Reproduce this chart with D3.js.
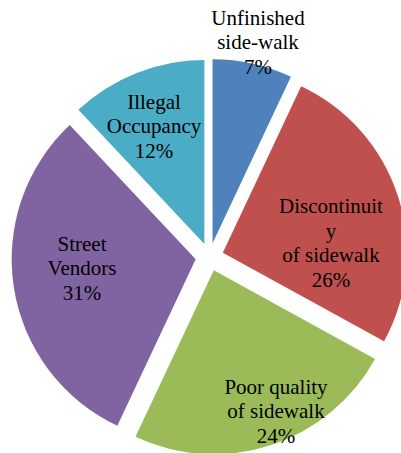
<!DOCTYPE html>
<html>
<head>
<meta charset="utf-8">
<script src="https://cdn.jsdelivr.net/npm/d3@7.9.0/dist/d3.min.js"></script>
<style>
  html, body { margin: 0; padding: 0; background: #fff; }
  svg { display: block; }
</style>
</head>
<body>
<div id="chart"></div>
<script>
// data
const categories = ['Unfinished side-walk', 'Discontinuity of sidewalk', 'Poor quality of sidewalk', 'Street Vendors', 'Illegal Occupancy'];
const values = [7, 26, 24, 31, 12];
const labelLines = [
  ['Unfinished', 'side-walk'],
  ['Discontinuit', 'y', 'of sidewalk'],
  ['Poor quality', 'of sidewalk'],
  ['Street', 'Vendors'],
  ['Illegal', 'Occupancy']
];
const sliceColors = ['#4F81BD', '#C0504D', '#9BBB59', '#8064A2', '#4BACC6'];

// layout
const width = 401;
const height = 453;
const center = { x: 209.5, y: 257 };
const radius = 184;
const explode = 14;
const lineHeight = 24.5;
const labelFont = "'Liberation Serif', 'Times New Roman', serif";
// where each label sits: fraction of radius and angle shift (deg) from the slice bisector
const labelPlace = [
  { k: 1.196, shift: 0 },
  { k: 0.663, shift: 11.4 },
  { k: 0.913, shift: -5.4 },
  { k: 0.696, shift: 4 },
  { k: 0.772, shift: -1.4 }
];

const rows = categories.map((name, i) => ({
  name,
  value: values[i],
  lines: labelLines[i].concat([values[i] + '%']),
  color: sliceColors[i],
  place: labelPlace[i]
}));

const svg = d3.select('#chart')
  .append('svg')
  .attr('width', width)
  .attr('height', height);

const pie = d3.pie()
  .sort(null)
  .value(d => d.value);

const arc = d3.arc()
  .innerRadius(0)
  .outerRadius(radius);

const arcs = pie(rows);

function midAngle(d) {
  return (d.startAngle + d.endAngle) / 2;
}

svg.append('g')
  .attr('transform', `translate(${center.x},${center.y})`)
  .selectAll('path')
  .data(arcs)
  .join('path')
  .attr('d', arc)
  .attr('fill', d => d.data.color)
  .attr('transform', d => {
    const a = midAngle(d);
    return `translate(${explode * Math.sin(a)},${-explode * Math.cos(a)})`;
  });

// one text element per label line, placed in page coordinates
const labelRows = arcs.flatMap(d => {
  const a = midAngle(d) + d.data.place.shift * Math.PI / 180;
  const r = radius * d.data.place.k;
  const lx = center.x + r * Math.sin(a);
  const ly = center.y - r * Math.cos(a);
  const n = d.data.lines.length;
  return d.data.lines.map((t, i) => ({
    t,
    x: Math.round(lx),
    y: Math.round(ly + (i - (n - 1) / 2) * lineHeight + 7)
  }));
});

svg.append('g')
  .selectAll('text')
  .data(labelRows)
  .join('text')
  .attr('x', d => d.x)
  .attr('y', d => d.y)
  .attr('text-anchor', 'middle')
  .style('font-family', labelFont)
  .style('font-size', '21px')
  .attr('fill', '#000')
  .text(d => d.t);
</script>
</body>
</html>
